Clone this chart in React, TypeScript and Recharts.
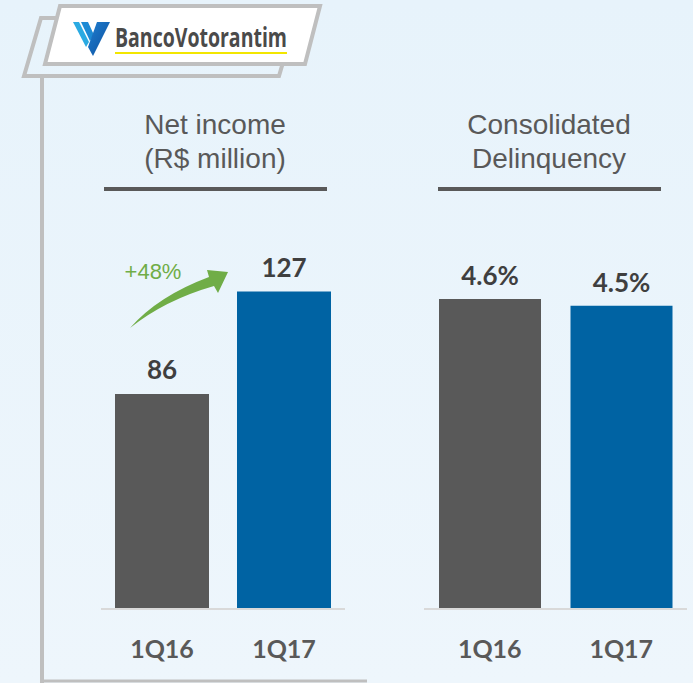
import { Bar, BarChart, Cell, LabelList, XAxis, YAxis } from "recharts"

const quarters = ["1Q16", "1Q17"]
const netIncome = [86, 127]
const delinquency = [4.6, 4.5]
const barColors = ["#595959", "#0063a3"]

const incomeData = quarters.map((q, i) => ({ quarter: q, value: netIncome[i] }))
const delinqData = quarters.map((q, i) => ({ quarter: q, value: delinquency[i] }))

const tickStyle = { fontFamily: "Lato", fontWeight: 700, fontSize: 25, fill: "#595959" }
const labelStyle = { fontFamily: "Lato", fontWeight: 700, fontSize: 26, fill: "#3f3f3f" }
const titleStyle = { fontFamily: "Liberation Sans, Arial", fontSize: 28, fill: "#595959" }

function Decorations() {
  return (
    <svg width={693} height={683} style={{ position: "absolute", left: 0, top: 0 }}>
      {/* frame lines */}
      <line x1={42} y1={74} x2={42} y2={683} stroke="#bfbfbf" strokeWidth={4} />
      <line x1={40} y1={681} x2={367} y2={681} stroke="#bfbfbf" strokeWidth={3} />
      {/* logo boxes */}
      <polygon points="41,18 296,18 279,76 24,76" fill="none" stroke="#bfbfbf" strokeWidth={4} />
      <polygon points="60,6 320,6 305,64 45,64" fill="#ffffff" stroke="#bfbfbf" strokeWidth={4} />
      <defs>
        <linearGradient id="vblue" x1="0" y1="0" x2="1" y2="1">
          <stop offset="0" stopColor="#1f7fd0" />
          <stop offset="1" stopColor="#0d4f9e" />
        </linearGradient>
      </defs>
      <polygon points="73,22 79,22 89,42 86,47" fill="#2aaae2" />
      <polygon points="81,22 88,22 94,35 90,41" fill="#1c8ad4" />
      <polygon points="97,22 110,22 93,56 88,47" fill="url(#vblue)" />
      <text x={115} y={47} fontFamily="Open Sans" fontWeight={700} fontSize={26} fill="#4a4a4a" textLength={172} lengthAdjust="spacingAndGlyphs">
        BancoVotorantim
      </text>
      <line x1={115} y1={53} x2={287} y2={53} stroke="#f2e600" strokeWidth={2} />
      {/* titles */}
      <text x={215} y={134} textAnchor="middle" {...titleStyle}>Net income</text>
      <text x={215} y={168} textAnchor="middle" {...titleStyle}>(R$ million)</text>
      <line x1={104} y1={189} x2={327} y2={189} stroke="#595959" strokeWidth={4} />
      <text x={549} y={134} textAnchor="middle" {...titleStyle}>Consolidated</text>
      <text x={549} y={168} textAnchor="middle" {...titleStyle}>Delinquency</text>
      <line x1={438} y1={189} x2={661} y2={189} stroke="#595959" strokeWidth={4} />
      {/* growth arrow */}
      <path d="M 130 328 Q 158 296 209 277 L 207 270 L 228 272 L 218 293 L 214 286 Q 165 300 130 328 Z" fill="#70ad47" />
      <text x={153} y={279} textAnchor="middle" fontFamily="Liberation Sans, Arial" fontSize={22} fill="#70ad47">+48%</text>
    </svg>
  )
}

export default function App() {
  return (
    <div
      style={{
        position: "absolute",
        left: 0,
        top: 0,
        width: 693,
        height: 683,
        overflow: "hidden",
        background: "linear-gradient(#e7f3fb, #eef6fc)",
      }}
    >
      <Decorations />
      <div style={{ position: "absolute", left: 101, top: 0 }}>
        <BarChart width={244} height={683} data={incomeData} margin={{ top: 109, right: 0, left: 0, bottom: 44 }}>
          <YAxis hide domain={[0, 200]} />
          <XAxis
            dataKey="quarter"
            height={30}
            tickLine={false}
            tickSize={0}
            tickMargin={31}
            axisLine={{ stroke: "#d9d9d9", strokeWidth: 2 }}
            tick={tickStyle}
          />
          <Bar dataKey="value" barSize={94} isAnimationActive={false}>
            {incomeData.map((d, i) => (
              <Cell key={d.quarter} fill={barColors[i]} />
            ))}
            <LabelList dataKey="value" position="top" offset={15} style={labelStyle} />
          </Bar>
        </BarChart>
      </div>
      <div style={{ position: "absolute", left: 424, top: 0 }}>
        <BarChart width={263} height={683} data={delinqData} margin={{ top: 70, right: 0, left: 0, bottom: 44 }}>
          <YAxis hide domain={[0, 8]} />
          <XAxis
            dataKey="quarter"
            height={30}
            tickLine={false}
            tickSize={0}
            tickMargin={31}
            axisLine={{ stroke: "#d9d9d9", strokeWidth: 2 }}
            tick={tickStyle}
          />
          <Bar dataKey="value" barSize={102} isAnimationActive={false}>
            {delinqData.map((d, i) => (
              <Cell key={d.quarter} fill={barColors[i]} />
            ))}
            <LabelList
              dataKey="value"
              position="top"
              offset={14}
              style={labelStyle}
              formatter={(v: number) => `${v.toFixed(1)}%`}
            />
          </Bar>
        </BarChart>
      </div>
    </div>
  )
}
